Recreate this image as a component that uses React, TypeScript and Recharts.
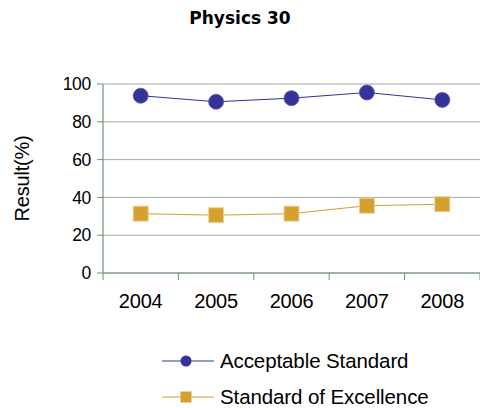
import React from "react";
import { LineChart, Line, XAxis, YAxis, CartesianGrid, Legend } from "recharts";

const years = ["2004", "2005", "2006", "2007", "2008"];
const acceptableStandard = [93.8, 90.6, 92.5, 95.5, 91.6];
const standardOfExcellence = [31.4, 30.6, 31.4, 35.6, 36.4];
const yTicks = [0, 20, 40, 60, 80, 100];

const data = years.map((year, i) => ({
  year,
  acceptable: acceptableStandard[i],
  excellence: standardOfExcellence[i],
}));

const FONT = '"Liberation Sans", Arial, sans-serif';
const AXIS = "#6f946f";
const BLUE = "#333399";
const GOLD = "#D4A030";

// Square marker for the excellence series
const SquareDot = (props: any) => {
  const { cx, cy } = props;
  if (cx == null || cy == null) return null;
  return (
    <rect x={cx - 7.5} y={cy - 7.5} width={15} height={15} fill={GOLD} stroke="#ecd29a" strokeWidth={1} />
  );
};

const CircleDot = (props: any) => {
  const { cx, cy } = props;
  if (cx == null || cy == null) return null;
  return <circle cx={cx} cy={cy} r={7.5} fill={BLUE} stroke="#5a5ab0" strokeWidth={0.8} />;
};

// Category tick: year label centred in the band, tick mark on the band's left edge
const YearTick = (props: any) => {
  const { x, y, payload, index, visibleTicksCount } = props;
  const half = payload?.offset ?? 0;
  const isLast = index === visibleTicksCount - 1;
  return (
    <g>
      <line x1={x - half} x2={x - half} y1={y} y2={y + 7} stroke={AXIS} strokeWidth={1} />
      {isLast && <line x1={x + half} x2={x + half} y1={y} y2={y + 7} stroke={AXIS} strokeWidth={1} />}
      <text x={x} y={y + 35} textAnchor="middle" fill="#000" fontSize={20} fontFamily={FONT} letterSpacing={-0.2}>
        {payload.value}
      </text>
    </g>
  );
};

const AxisTitle = (props: any) => {
  const vb = props.viewBox || {};
  const cx = (vb.x ?? 0) + 22;
  const cy = (vb.y ?? 0) + (vb.height ?? 0) / 2;
  return (
    <text
      x={cx}
      y={cy}
      transform={`rotate(-90 ${cx} ${cy})`}
      textAnchor="middle"
      dominantBaseline="central"
      fontSize={20}
      fontFamily={FONT}
      fill="#000"
      letterSpacing={-0.2}
    >
      Result(%)
    </text>
  );
};

const LegendContent = (props: any) => {
  const { payload = [] } = props;
  return (
    <div style={{ fontFamily: FONT }}>
      {payload.map((entry: any) => (
        <div key={entry.value} style={{ display: "flex", alignItems: "center", height: 36 }}>
          <svg width={52} height={16} style={{ display: "block" }}>
            <line x1={0} x2={52} y1={8} y2={8} stroke={entry.color} strokeWidth={1} />
            {entry.dataKey === "acceptable" ? (
              <circle cx={24} cy={8} r={5.5} fill={BLUE} />
            ) : (
              <rect x={18.5} y={2.5} width={11} height={11} fill={GOLD} />
            )}
          </svg>
          <span style={{ marginLeft: 6, fontSize: 20.5, color: "#000", letterSpacing: -0.1, whiteSpace: "nowrap" }}>
            {entry.value}
          </span>
        </div>
      ))}
    </div>
  );
};

export default function App() {
  return (
    <div style={{ position: "absolute", left: 0, top: 0, width: 480, height: 408, background: "#fff" }}>
      <div
        style={{
          position: "absolute",
          top: 8,
          left: 0,
          width: 480,
          textAlign: "center",
          fontFamily: '"DejaVu Sans", sans-serif',
          fontWeight: "bold",
          fontSize: 17,
          lineHeight: "20px",
          letterSpacing: 0,
          color: "#000",
          zIndex: 2,
        }}
      >
        Physics 30
      </div>
      <LineChart width={480} height={408} data={data} margin={{ top: 84, right: 0, bottom: 95, left: 0 }}>
        <CartesianGrid vertical={false} stroke="#a8a8a8" strokeWidth={1} />
        <XAxis
          dataKey="year"
          scale="band"
          height={40}
          axisLine={{ stroke: AXIS, strokeWidth: 1.2 }}
          tickLine={false}
          tickSize={0}
          tickMargin={0}
          interval={0}
          tick={<YearTick />}
        />
        <YAxis
          width={103}
          domain={[0, 100]}
          ticks={yTicks}
          interval={0}
          axisLine={{ stroke: AXIS, strokeWidth: 1.2 }}
          tickLine={{ stroke: AXIS }}
          tickSize={6}
          tickMargin={6}
          tick={{ fill: "#000", fontSize: 17.5, fontFamily: FONT, letterSpacing: -0.3 }}
          label={<AxisTitle />}
        />
        <Line
          type="linear"
          dataKey="acceptable"
          name="Acceptable Standard"
          stroke={BLUE}
          strokeWidth={1}
          dot={<CircleDot />}
          activeDot={false}
          isAnimationActive={false}
        />
        <Line
          type="linear"
          dataKey="excellence"
          name="Standard of Excellence"
          stroke={GOLD}
          strokeWidth={1}
          dot={<SquareDot />}
          activeDot={false}
          isAnimationActive={false}
        />
        <Legend
          layout="vertical"
          align="center"
          verticalAlign="middle"
          content={<LegendContent />}
          wrapperStyle={{ left: 162, top: 343, width: 300, height: 72 }}
        />
      </LineChart>
    </div>
  );
}
